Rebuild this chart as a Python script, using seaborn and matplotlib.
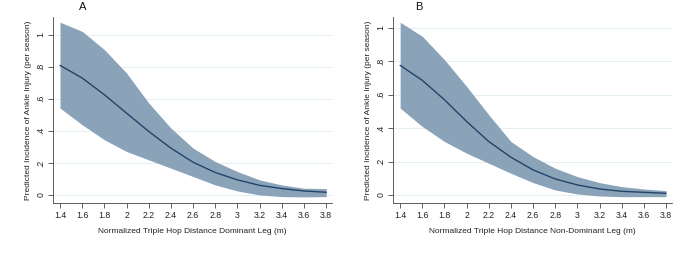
import matplotlib
matplotlib.use("Agg")
import matplotlib.pyplot as plt
import seaborn as sns
import numpy as np
import pandas as pd

# ------------------------------------------
# Data
# ------------------------------------------
hop_distance = [1.4, 1.6, 1.8, 2.0, 2.2, 2.4, 2.6, 2.8, 3.0, 3.2, 3.4, 3.6, 3.8]

# Panel A: dominant leg
dom_pred = [0.808, 0.729, 0.625, 0.51, 0.396, 0.292, 0.204, 0.14, 0.094, 0.06, 0.04, 0.025, 0.017]
dom_upper = [1.077, 1.02, 0.906, 0.76, 0.573, 0.417, 0.292, 0.208, 0.146, 0.094, 0.0625, 0.042, 0.04]
dom_lower = [0.542, 0.4375, 0.344, 0.271, 0.219, 0.167, 0.115, 0.0625, 0.025, 0.0, -0.01, -0.012, -0.01]

# Panel B: non-dominant leg
nondom_pred = [0.776, 0.686, 0.57, 0.44, 0.32, 0.226, 0.15, 0.096, 0.06, 0.036, 0.022, 0.016, 0.01]
nondom_upper = [1.034, 0.95, 0.81, 0.65, 0.48, 0.32, 0.23, 0.16, 0.11, 0.074, 0.05, 0.036, 0.026]
nondom_lower = [0.52, 0.41, 0.32, 0.25, 0.19, 0.13, 0.074, 0.03, 0.006, -0.006, -0.01, -0.01, -0.01]

panel_titles = ["A", "B"]
x_labels = ["Normalized Triple Hop Distance Dominant Leg (m)",
            "Normalized Triple Hop Distance Non-Dominant Leg (m)"]
y_label = "Predicted Incidence of Ankle Injury (per season)"

x_ticks = [1.4, 1.6, 1.8, 2.0, 2.2, 2.4, 2.6, 2.8, 3.0, 3.2, 3.4, 3.6, 3.8]
x_tick_labels = ["1.4", "1.6", "1.8", "2", "2.2", "2.4", "2.6", "2.8", "3", "3.2", "3.4", "3.6", "3.8"]
y_ticks = [0, 0.2, 0.4, 0.6, 0.8, 1.0]
y_tick_labels = ["0", ".2", ".4", ".6", ".8", "1"]

# ------------------------------------------
# Styling
# ------------------------------------------
sns.set_theme(style="white")
plt.rcParams['font.family'] = ['Liberation Sans', 'DejaVu Sans']

fill_color = "#8ba3b8"
line_color = "#22436a"
grid_color = "#e6eff1"

fig = plt.figure(figsize=(6.85, 2.56), dpi=100)
ax_a = fig.add_axes([0.0774, 0.207, 0.4076, 0.727])
ax_b = fig.add_axes([0.574, 0.207, 0.407, 0.727])

panels = [
    (ax_a, dom_pred, dom_lower, dom_upper, (-0.05, 1.11), 83),
    (ax_b, nondom_pred, nondom_lower, nondom_upper, (-0.048, 1.066), 419),
]

for i, (ax, pred, lo, hi, ylim, title_px) in enumerate(panels):
    df = pd.DataFrame({"x": hop_distance, "pred": pred, "lo": lo, "hi": hi})

    for yt in y_ticks:
        ax.axhline(yt, color=grid_color, linewidth=0.8, zorder=0)

    ax.fill_between(df["x"], df["lo"], df["hi"], color=fill_color, linewidth=0, zorder=2)
    sns.lineplot(data=df, x="x", y="pred", ax=ax, color=line_color, linewidth=1.0, zorder=3)

    ax.set_xlim(1.337, 3.854)
    ax.set_ylim(*ylim)
    ax.set_xticks(x_ticks)
    ax.set_xticklabels(x_tick_labels, fontsize=6.3)
    ax.set_yticks(y_ticks)
    ax.set_yticklabels(y_tick_labels, fontsize=6.3, rotation=90, va="center")
    ax.tick_params(axis="both", length=3.5, width=0.6, color="#444444", pad=2, labelcolor="#222222")
    ax.tick_params(axis="both", which="both", bottom=True, left=True)

    ax.set_xlabel(x_labels[i], fontsize=6, color="#222222", labelpad=6)
    ax.set_ylabel(y_label, fontsize=6, color="#222222", labelpad=3.5)

    for side in ["top", "right"]:
        ax.spines[side].set_visible(False)
    for side in ["left", "bottom"]:
        ax.spines[side].set_color("#444444")
        ax.spines[side].set_linewidth(0.6)

    fig.text(title_px / 685, 1 - 7 / 256, panel_titles[i], fontsize=8, ha="center", va="center",
             color="#111111")

fig.savefig("out.png", dpi=100)
